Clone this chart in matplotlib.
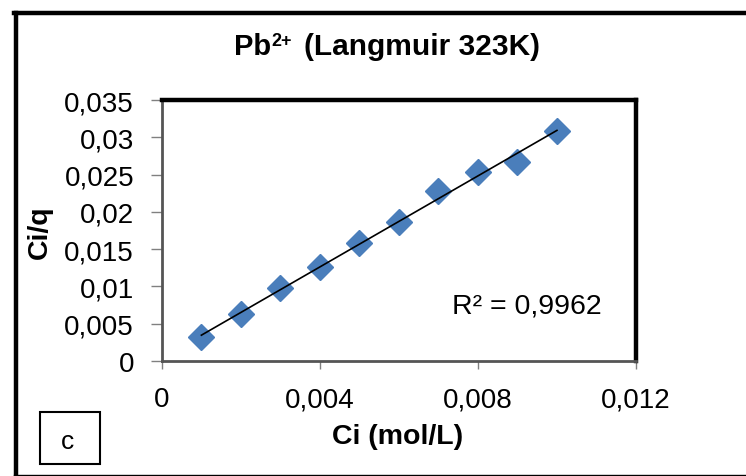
import numpy as np
import matplotlib.pyplot as plt
from matplotlib.lines import Line2D
from matplotlib.ticker import FuncFormatter

plt.rcParams['font.family'] = ['Liberation Sans', 'DejaVu Sans']

# Data
ci = [0.001, 0.002, 0.003, 0.004, 0.005, 0.006, 0.007, 0.008, 0.009, 0.010]
ci_q = [0.00318, 0.0063, 0.00975, 0.01256, 0.01582, 0.01868, 0.02284, 0.02539, 0.02664, 0.03089]
x_ticks = [0, 0.004, 0.008, 0.012]
y_ticks = [0, 0.005, 0.01, 0.015, 0.02, 0.025, 0.03, 0.035]
r2_text = "R² = 0,9962"

W, H = 746, 477


def fx(px):
    return px / W


def fy(py):
    return 1 - py / H


fig = plt.figure(figsize=(7.46, 4.77), dpi=100)
ax = fig.add_axes([0.217, 0.241, 0.6355, 0.547])

ax.plot(ci, ci_q, linestyle='none', marker='D', markersize=13,
        color='#4a7ebb', zorder=3)

# linear trend line
slope, icept = np.polyfit(ci, ci_q, 1)
xs = np.array([ci[0], ci[-1]])
ax.plot(xs, slope * xs + icept, color='black', lw=1.2, zorder=4)

ax.set_xlim(0, 0.012)
ax.set_ylim(0, 0.035)
ax.set_xticks(x_ticks)
ax.set_yticks(y_ticks)

comma = FuncFormatter(lambda v, p: ('%g' % round(v, 4)).replace('.', ','))
ax.xaxis.set_major_formatter(comma)
ax.yaxis.set_major_formatter(comma)
ax.tick_params(direction='out', width=1, color='#808080', labelsize=20)
ax.tick_params(axis='y', length=8, pad=12)
ax.tick_params(axis='x', length=6, pad=12)

for s in ['top', 'right']:
    ax.spines[s].set_linewidth(3.2)
    ax.spines[s].set_color('black')
for s in ['left', 'bottom']:
    ax.spines[s].set_linewidth(2)
    ax.spines[s].set_color('#555555')

ax.text(0.01114, 0.0074, r2_text, fontsize=20.5, ha='right', va='center')

# title in pieces: Pb, superscript 2+, rest
fig.text(fx(234), fy(55), 'Pb', fontsize=21, fontweight='bold', va='baseline')
fig.text(fx(271), fy(46), '2+', fontsize=13, fontweight='bold', va='baseline')
fig.text(fx(304), fy(55), '(Langmuir 323K)', fontsize=21.5, fontweight='bold',
         va='baseline')

fig.text(fx(398), fy(437), 'Ci (mol/L)', fontsize=20.5, fontweight='bold',
         ha='center', va='center')
fig.text(fx(40), fy(232), 'Ci/q', fontsize=20.5, fontweight='bold',
         rotation=90, ha='center', va='center')

# "c" box
box = plt.Rectangle((fx(40), fy(465)), 60 / W, 52 / H,
                    transform=fig.transFigure, fill=False, ec='black', lw=1.5)
fig.add_artist(box)
fig.text(fx(68), fy(442), 'c', fontsize=19, ha='center', va='center')

# outer frame
fig.add_artist(Line2D([fx(16), fx(16)], [fy(14), fy(476)],
                      transform=fig.transFigure, color='black', lw=3.2))
fig.add_artist(Line2D([fx(14), 1.0], [fy(14), fy(14)],
                      transform=fig.transFigure, color='black', lw=3.2))
fig.add_artist(Line2D([fx(14), 1.0], [fy(475.5), fy(475.5)],
                      transform=fig.transFigure, color='black', lw=1))

fig.savefig('out.png', dpi=100)
